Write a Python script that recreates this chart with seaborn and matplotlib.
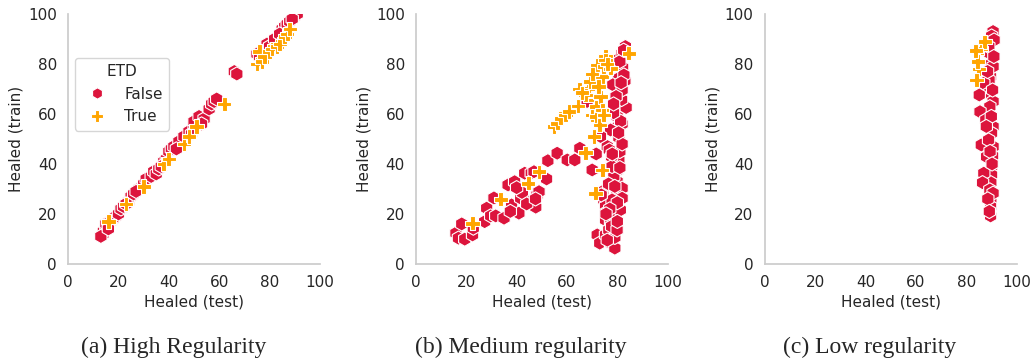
import matplotlib
matplotlib.use("Agg")
import matplotlib.pyplot as plt
import seaborn as sns
import pandas as pd

# Panel (a) high regularity
a_false_test = [14, 14, 15, 15, 16, 17, 18, 19, 20, 21, 22, 24, 25, 26, 28, 30, 31, 33, 34, 35,
                36, 38, 39, 40, 41, 42, 44, 46, 48, 50, 50, 52, 54, 56, 57, 58, 59, 66, 67, 75,
                76, 79, 80, 82, 85, 86, 87, 88, 90, 91, 13, 16, 23, 27, 37, 43, 49, 53, 84, 89]
a_false_train = [12, 13, 14, 16, 15, 17, 18, 19, 20, 22, 23, 25, 27, 28, 30, 32, 34, 35, 37, 36,
                 38, 41, 42, 45, 46, 47, 49, 51, 53, 55, 57, 59, 58, 62, 64, 65, 66, 77, 76, 84,
                 83, 88, 87, 90, 94, 95, 96, 97, 99, 100, 11, 14, 24, 29, 39, 46, 52, 56, 92, 98]
a_true_test = [16, 23, 30, 38, 40, 46, 48, 51, 62, 75, 76, 77, 78, 80, 81, 83, 84, 86, 87, 88]
a_true_train = [17, 24, 31, 40, 42, 48, 51, 55, 64, 80, 85, 81, 83, 85, 86, 87, 88, 91, 92, 94]

# Panel (b) medium regularity
b_false_test = [15.9, 16.9, 18.2, 19.4, 22.5, 22.8, 27.3, 28.1, 29.7, 31.0, 31.7, 35.0, 36.6, 38.0,
                39.2, 40.9, 41.6, 42.3, 43.2, 45.8, 46.9, 47.6, 48.1, 46.9, 48.9, 51.9, 52.4, 56.1,
                60.1, 63.1, 65.1, 71.6, 70.0, 68.0,
                72.0, 73.0, 75.3, 74.2, 74.6, 75.3, 75.3, 75.3, 77.3, 76.6, 77.3, 79.0, 79.0, 79.0,
                79.3, 79.3, 79.7, 79.9, 79.9, 80.6, 81.0, 80.6, 80.3, 79.9, 80.3, 80.3, 80.6, 79.9,
                81.9, 83.2, 82.1, 83.0, 83.5, 81.9, 81.9, 77.3, 76.0, 76.8, 77.7, 81.3, 81.7, 78.2,
                81.9, 82.6, 81.0, 78.6, 77.9, 81.9, 81.9, 81.2, 77.9, 77.7, 79.9, 73.3, 73.6,
                37.5, 40.0, 44.0, 47.5, 78.5, 79.5, 80.5, 81.5, 78.0, 76.5, 80.0, 81.0, 79.0, 82.5,
                80.0, 78.5, 77.0, 75.5, 76.0]
b_false_train = [12.3, 10.3, 16.0, 9.9, 11.6, 14.3, 16.9, 22.3, 19.2, 26.4, 19.2, 18.3, 31.6, 23.6,
                 32.9, 20.3, 26.3, 28.5, 36.3, 36.3, 25.9, 22.7, 27.6, 36.9, 28.9, 34.0, 41.3, 44.3,
                 41.6, 41.6, 46.3, 44.0, 37.6, 65.0,
                 11.6, 8.3, 11.6, 29.0, 25.6, 23.0, 20.3, 17.6, 17.0, 13.6, 8.3, 6.3, 10.6, 14.3,
                 19.0, 23.3, 28.5, 33.0, 37.3, 41.6, 45.0, 50.6, 55.0, 59.0, 63.6, 70.3, 74.3, 81.6,
                 84.3, 87.0, 78.6, 73.3, 62.6, 56.0, 48.0, 53.6, 47.0, 45.6, 42.9, 57.1, 65.8, 71.7,
                 69.6, 75.6, 81.0, 35.0, 39.0, 30.3, 26.3, 21.6, 25.6, 15.0, 13.6, 51.0, 27.6,
                 21.0, 30.5, 24.0, 26.0, 60.5, 67.0, 52.5, 72.5, 44.0, 32.0, 17.0, 38.5, 31.0, 85.5,
                 24.5, 64.0, 22.0, 20.0, 9.5]
b_true_test = [33.7, 44.6, 48.9, 22.5, 54.8, 56.1, 57.5, 59.4, 60.8, 64.4, 65.0, 67.4, 68.4, 69.1,
               72.0, 75.3, 70.7, 70.0, 71.3, 71.7, 71.7, 73.3, 73.0, 74.0, 74.6, 77.3, 75.3, 74.0,
               71.3, 84.5, 74.0, 70.0, 67.4, 74.6, 66.0, 72.5, 76.0]
b_true_train = [25.9, 32.3, 36.9, 16.3, 54.9, 56.3, 58.3, 59.6, 61.0, 63.2, 70.0, 44.5, 70.3, 73.0,
                79.6, 83.2, 51.0, 59.6, 65.6, 62.9, 58.9, 66.9, 55.6, 75.0, 79.0, 78.3, 81.6, 37.6,
                28.3, 84.3, 61.6, 76.0, 67.6, 59.6, 68.5, 71.0, 80.0]

# Panel (c) low regularity
c_false_test = [90.7, 90.1, 89.4, 89.7, 89.7, 89.1, 87.0, 89.1, 85.2, 90.7, 89.4, 85.5, 87.8, 90.7,
                90.1, 86.0, 90.7, 90.5, 90.1, 90.1, 89.8, 87.0, 86.5, 89.4, 89.8, 89.7, 89.7, 90.7,
                91.1, 90.5, 88.9, 90.7, 88.1, 89.0, 88.5, 90.0, 91.0, 88.0, 89.5, 90.3, 88.6, 89.2]
c_false_train = [93.0, 91.2, 84.3, 79.9, 74.9, 73.6, 72.3, 68.3, 67.6, 65.0, 62.9, 60.9, 57.6, 54.9,
                 52.3, 47.6, 46.9, 43.2, 38.9, 35.6, 32.5, 36.3, 32.5, 29.6, 25.6, 22.9, 19.2, 79.0,
                 89.6, 69.6, 49.6, 28.3, 42.9, 87.0, 77.0, 59.0, 83.0, 55.0, 45.0, 40.0, 26.0, 21.0]
c_true_test = [86.0, 85.0, 84.6, 87.4, 84.1, 83.8]
c_true_train = [86.3, 78.0, 81.0, 88.9, 73.6, 85.3]

captions = ["(a) High Regularity", "(b) Medium regularity", "(c) Low regularity"]


def make_df(ft, fr, tt, tr):
    f = pd.DataFrame({"test": ft, "train": fr, "ETD": False})
    t = pd.DataFrame({"test": tt, "train": tr, "ETD": True})
    return pd.concat([f, t], ignore_index=True)


panels = [
    make_df(a_false_test, a_false_train, a_true_test, a_true_train),
    make_df(b_false_test, b_false_train, b_true_test, b_true_train),
    make_df(c_false_test, c_false_train, c_true_test, c_true_train),
]

sns.set_theme(style="whitegrid")
plt.rcParams["font.family"] = ["DejaVu Sans"]

fig = plt.figure(figsize=(10.32, 3.6), dpi=100)
lefts = [0.066, 0.403, 0.741]
palette = {False: "crimson", True: "orange"}
markers = {False: "h", True: "P"}

for i, df in enumerate(panels):
    ax = fig.add_axes([lefts[i], 0.267, 0.244, 0.694])
    sns.scatterplot(data=df, x="test", y="train", hue="ETD", style="ETD",
                    palette=palette, markers=markers, s=105, edgecolor="white",
                    linewidth=0.8, ax=ax, legend=(i == 0))
    ax.grid(False)
    ax.set_xlim(0, 100)
    ax.set_ylim(0, 100)
    ax.set_xticks([0, 20, 40, 60, 80, 100])
    ax.set_yticks([0, 20, 40, 60, 80, 100])
    ax.tick_params(labelsize=11, pad=2)
    ax.set_xlabel("Healed (test)", fontsize=11, labelpad=3)
    ax.set_ylabel("Healed (train)", fontsize=11, labelpad=3)
    sns.despine(ax=ax)
    if i == 0:
        ax.legend(title="ETD", loc="upper left", bbox_to_anchor=(0.028, 0.824),
                  borderaxespad=0, fontsize=11, title_fontsize=11, markerscale=0.8)
    fig.text(lefts[i] + 0.122 - 0.02, 0.035, captions[i], ha="center", va="center",
             fontsize=17, family="Liberation Serif")

fig.savefig("out.png", dpi=100)
